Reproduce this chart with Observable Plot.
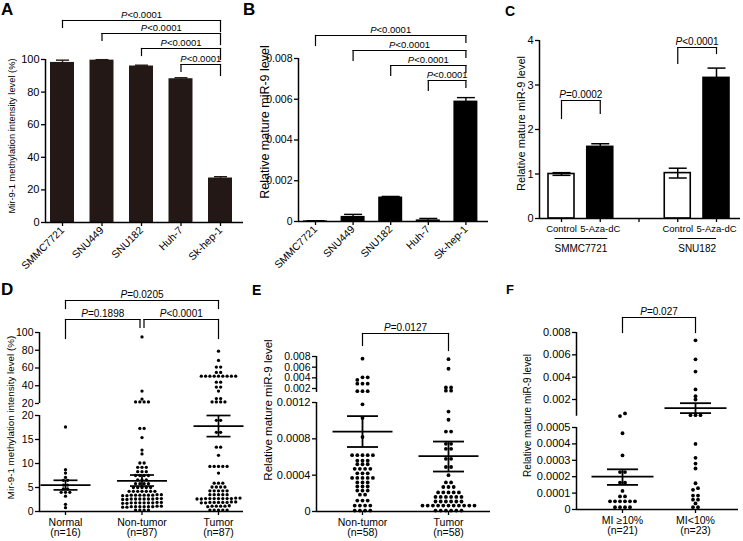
<!DOCTYPE html>
<html><head><meta charset="utf-8">
<script src="https://cdn.jsdelivr.net/npm/d3@7"></script>
<script src="https://cdn.jsdelivr.net/npm/@observablehq/plot@0.6"></script>
<style>
html,body{margin:0;padding:0;background:#fff;}
#fig{position:relative;width:743px;height:541px;overflow:hidden;background:#fff;font-family:'Liberation Sans',Arial,Helvetica,sans-serif;color:#000;}
.lab{position:absolute;font-weight:bold;line-height:1;}
</style></head><body><div id="fig"></div>
<script>
// ---------------- DATA ----------------
// A & B: cell lines
const cellLines = ["SMMC7721", "SNU449", "SNU182", "Huh-7", "Sk-hep-1"];
const methylPct = [98.2, 99.6, 96.0, 88.2, 27.3];
const methylErr = [1.4, 0.3, 0.5, 0.6, 0.8];
const mir9Cell = [0.00003, 0.00025, 0.00120, 0.00008, 0.00591];
const mir9CellErr = [0.00001, 0.00010, 0.00003, 0.00007, 0.00017];
const cellPairs = [[0, 4], [1, 4], [2, 4], [3, 4]];
const pCellA = ["P<0.0001", "P<0.0001", "P<0.0001", "P<0.0001"];
const pCellB = ["P<0.0001", "P<0.0001", "P<0.0001", "P<0.0001"];

// C: 5-Aza-dC treatment
const cLines = ["SMMC7721", "SNU182"];
const cTreat = ["Control", "5-Aza-dC"];
const cVals = [1.00, 1.61, 1.02, 3.16];
const cErr = [0.03, 0.07, 0.11, 0.22];
const cP = ["P=0.0002", "P<0.0001"];

// D: methylation in tissues
const dGroups = ["Normal", "Non-tumor", "Tumor"];
const dN = [16, 87, 87];
const dNormal = [17.6, 8.7, 8.0, 7.1, 6.5, 6.5, 5.5, 5.5, 4.7, 4.7, 4.0, 4.0, 4.0, 3.2, 1.5, 0.8];
const dNonTumor = [95, 34, 25, 21.8, 21.8, 21.8, 21.8,
  17.3, 17.3, 15.4, 12.8, 12.0, 10.1, 10.1, 9.2, 9.2, 9.2, 8.3, 8.3, 8.3,
  7.5, 7.5, 7.5, 7.5, 6.6, 6.6, 6.6, 5.8, 5.8, 5.8, 5.8, 5.0, 5.0, 5.0, 5.0, 5.0,
  4.2, 4.2, 4.2, 4.2, 4.2, 4.2, 4.2,
  3.4, 3.4, 3.5, 3.3, 3.4, 3.4, 3.5, 3.3, 3.4, 3.4,
  2.6, 2.6, 2.7, 2.5, 2.6, 2.6, 2.7, 2.5, 2.6, 2.6,
  1.8, 1.8, 1.9, 1.7, 1.8, 1.8, 1.9, 1.7, 1.8, 1.8,
  1.0, 1.0, 1.1, 0.9, 1.0, 1.0, 1.1, 0.9, 1.0, 1.0,
  0.3, 0.3, 0.3, 0.3];
const dTumor = [79, 68.5, 61, 61, 55, 55, 50.8, 50.8, 50.8, 50.8, 50.8, 50.8, 50.8, 50.8, 50.8,
  44, 44, 38.5, 38.5, 34, 25.5, 25.5, 21.8, 21.8, 21.8, 21.8,
  19.0, 19.0, 16.5, 16.5, 13.4, 13.4, 11.7, 9.4, 9.4, 9.4, 9.4, 9.4, 8.0,
  5.9, 5.9, 5.9, 5.1, 5.1, 5.1, 5.1, 4.3, 4.3, 4.3, 4.3, 4.3, 3.5, 3.5, 3.5, 3.5, 3.5,
  2.7, 2.7, 2.8, 2.6, 2.7, 2.7, 2.8, 2.6, 2.7, 2.7, 2.7,
  1.9, 1.9, 2.0, 1.8, 1.9, 1.9, 2.0, 1.8, 1.9,
  1.1, 1.1, 1.2, 1.0, 1.1, 1.1,
  0.3, 0.3, 0.3, 0.3, 0.3];
const dMean = [5.5, 6.4, 17.8];
const dSemLo = [4.5, 5.3, 15.6];
const dSemHi = [6.5, 7.6, 20.0];
const dPairs = [[0, 2], [0, 1], [1, 2]];
const dP = ["P=0.0205", "P=0.1898", "P<0.0001"];

// E: miR-9 in tissues
const eGroups = ["Non-tumor", "Tumor"];
const eN = [58, 58];
const eNonTumor = [0.0076, 0.0041, 0.0041, 0.0036, 0.0029, 0.0029, 0.0029, 0.0015, 0.0015, 0.0015,
  0.00118, 0.00103, 0.00082,
  0.00062, 0.00062, 0.00062, 0.00062, 0.00062, 0.00056, 0.00056, 0.00056,
  0.00052, 0.00052, 0.00052, 0.00047, 0.00047, 0.00047, 0.00047,
  0.00042, 0.00042, 0.00042, 0.00037, 0.00037, 0.00037, 0.00037, 0.00037,
  0.00032, 0.00032, 0.00032, 0.000275, 0.000275, 0.000275, 0.00023, 0.00023, 0.00023,
  0.000185, 0.000185, 0.00012, 0.00012, 0.00012,
  0.000065, 0.000065, 0.000065, 0.000065, 0.00001, 0.00001, 0.00001, 0.00001];
const eTumor = [0.0075, 0.0057, 0.0022, 0.0022, 0.0016, 0.0016,
  0.0011, 0.00101, 0.00088, 0.00088, 0.000745, 0.000745, 0.00069, 0.00069,
  0.00058, 0.00058, 0.00049, 0.00049, 0.0004, 0.00032, 0.00032,
  0.00027, 0.00027, 0.00027, 0.00021, 0.00021, 0.00021, 0.00021, 0.00021,
  0.00016, 0.00016, 0.00016, 0.00016, 0.00016, 0.00016,
  0.00011, 0.00011, 0.00011, 0.00011, 0.00011, 0.00011,
  0.000065, 0.000065, 0.000065, 0.000065, 0.000065, 0.000065, 0.000065, 0.000065, 0.000065, 0.000065, 0.000065,
  0.00001, 0.00001, 0.00001, 0.00001, 0.00001, 0.00001];
const eMean = [0.00088, 0.00061];
const eSemLo = [0.00071, 0.00044];
const eSemHi = [0.00105, 0.00077];
const eP = ["P=0.0127"];

// F: miR-9 by microvascular invasion
const fGroups = ["MI \u226510%", "MI<10%"];
const fN = [21, 23];
const fHigh = [0.00075, 0.00052, 0.000465, 0.00033, 0.000228, 0.000228, 0.000163, 0.000163, 0.000113,
  0.00008, 0.00008, 0.00005, 0.00005, 0.00005, 0.00005, 0.00005, 0.00005,
  0.000014, 0.000014, 0.000014, 0.000014];
const fLow = [0.0073, 0.0056, 0.0045, 0.0029, 0.0023, 0.0020, 0.0006, 0.0006, 0.0006,
  0.0004, 0.000315, 0.00028, 0.00025, 0.00016, 0.00013, 0.00012,
  0.000085, 0.000085, 0.00006, 0.00006, 0.000037, 0.000014, 0.000014];
const fMean = [0.0002, 0.00122];
const fSemLo = [0.00015, 0.00078];
const fSemHi = [0.000245, 0.00167];
const fP = ["P=0.027"];

const yLabMethyl = "Mir-9-1 methylation intensity level (%)";
const yLabMir = "Relative mature miR-9 level";

// ---------------- LAYOUT ----------------
const FONT = "'Liberation Sans', Arial, Helvetica, sans-serif";
const L = {
  A:   {left: 0,   top: 0,   width: 245, height: 270, mt: 59, mb: 48, ml: 45, mr: 2, c0: 62,  step: 39.5,  yd: [0, 100]},
  B:   {left: 245, top: 0,   width: 250, height: 270, mt: 58, mb: 49, ml: 53, mr: 7, c0: 70,  step: 37.6,  yd: [0, 0.008]},
  C:   {left: 495, top: 0,   width: 248, height: 270, mt: 40, mb: 52, ml: 44, mr: 3, c0: 66,  step: 38.75, yd: [0, 4]},
  Dup: {left: 0,   top: 285, width: 245, height: 120, mt: 47, mb: 2,  ml: 39, mr: 2, c0: 65,  step: 76.5,  yd: [20, 100]},
  Dlo: {left: 0,   top: 405, width: 245, height: 136, mt: 10, mb: 30, ml: 39, mr: 2, c0: 65,  step: 76.5,  yd: [0, 20]},
  Eup: {left: 245, top: 300, width: 250, height: 95,  mt: 56, mb: 3,  ml: 71, mr: 5, c0: 117, step: 86,    yd: [0.00125, 0.008]},
  Elo: {left: 245, top: 395, width: 250, height: 146, mt: 7,  mb: 30, ml: 71, mr: 5, c0: 117, step: 86,    yd: [0, 0.0012]},
  Fup: {left: 495, top: 295, width: 248, height: 123, mt: 37, mb: 2.25, ml: 81, mr: 5, c0: 127, step: 73, yd: [0.0005, 0.008]},
  Flo: {left: 495, top: 420, width: 248, height: 121, mt: 7,  mb: 32, ml: 81, mr: 5, c0: 127, step: 73,    yd: [0, 0.0005]}
};

const fig = document.getElementById("fig");
const ctx = document.createElement("canvas").getContext("2d");
function textW(s, px) { ctx.font = `${px}px ${FONT}`; return ctx.measureText(s).width; }
const xd = c => [(c.ml - c.c0) / c.step, (c.width - c.mr - c.c0) / c.step];
const ypx = c => d3.scaleLinear(c.yd, [c.height - c.mb, c.mt]);
const fmt = n => v => v === 0 ? "0" : v.toFixed(n);

function render(c, marks, hasX) {
  const svg = Plot.plot({
    width: c.width, height: c.height,
    marginTop: c.mt, marginBottom: c.mb, marginLeft: c.ml, marginRight: c.mr,
    x: hasX ? {type: "linear", domain: xd(c), label: null} : {type: "linear", domain: xd(c), label: null, axis: null},
    y: {type: "linear", domain: c.yd, label: null},
    style: {backgroundColor: "transparent", overflow: "visible", fontFamily: FONT, fontSize: "10px", color: "#000"},
    marks
  });
  svg.style.position = "absolute";
  svg.style.left = c.left + "px";
  svg.style.top = c.top + "px";
  fig.appendChild(svg);
}

function axesLines(c) {
  return [Plot.ruleX([xd(c)[0]], {stroke: "#000", strokeWidth: 1.5})];
}
function xLine(c) { return Plot.ruleY([c.yd[0]], {stroke: "#000", strokeWidth: 1.5}); }
function yAxis(ticks, tf, fs) {
  return Plot.axisY({ticks, tickFormat: tf, tickSize: 4, tickPadding: 2, fontSize: fs, label: null, strokeWidth: 1.3});
}
function yLabel(text, offset, dy, fs) {
  return Plot.text([text], {frameAnchor: "left", text: d => d, rotate: -90, dx: -offset, dy, textAnchor: "middle", lineAnchor: "middle", fontSize: fs});
}
function bracketMarks(c, list, fs) {
  const inv = ypx(c).invert;
  const segs = [];
  list.forEach(b => {
    segs.push({x1: b.x1, x2: b.x2, y1: inv(b.line), y2: inv(b.line)});
    segs.push({x1: b.x1, x2: b.x1, y1: inv(b.line), y2: inv(b.l)});
    segs.push({x1: b.x2, x2: b.x2, y1: inv(b.line), y2: inv(b.r)});
  });
  return [
    Plot.link(segs, {x1: "x1", y1: "y1", x2: "x2", y2: "y2", stroke: "#000", strokeWidth: 1.2, strokeLinecap: "square"}),
    Plot.text(list, {x: d => (d.x1 + d.x2) / 2, y: d => inv(d.line), text: "text", lineAnchor: "bottom", dy: -3, fontSize: fs})
  ];
}
function errMarks(recs, capHalf, both, color, sw) {
  const segs = [];
  recs.forEach(d => {
    const lo = both ? d.v - d.e : d.v, hi = d.v + d.e;
    segs.push({x1: d.i, x2: d.i, y1: lo, y2: hi});
    segs.push({x1: d.i - capHalf, x2: d.i + capHalf, y1: hi, y2: hi});
    if (both) segs.push({x1: d.i - capHalf, x2: d.i + capHalf, y1: lo, y2: lo});
  });
  return Plot.link(segs, {x1: "x1", y1: "y1", x2: "x2", y2: "y2", stroke: color, strokeWidth: sw});
}
function meanMarks(c, means, lo, hi, halfPx, capPx, sw) {
  const [y0, y1] = c.yd; const inD = v => v >= y0 && v <= y1;
  const hm = halfPx / c.step, hc = capPx / c.step;
  const segs = [];
  means.forEach((m, i) => {
    if (inD(m)) segs.push({x1: i - hm, x2: i + hm, y1: m, y2: m});
    if (inD(lo[i])) segs.push({x1: i - hc, x2: i + hc, y1: lo[i], y2: lo[i]});
    if (inD(hi[i])) segs.push({x1: i - hc, x2: i + hc, y1: hi[i], y2: hi[i]});
    const a = Math.max(lo[i], y0), b = Math.min(hi[i], y1);
    if (a < b) segs.push({x1: i, x2: i, y1: a, y2: b});
  });
  return Plot.link(segs, {x1: "x1", y1: "y1", x2: "x2", y2: "y2", stroke: "#000", strokeWidth: sw});
}
function swarmMarks(c, groups, r, stepPx, gap) {
  const y = ypx(c); const [y0, y1] = c.yd;
  const pts = [];
  groups.forEach((vals, gi) => {
    const sel = vals.filter(v => v >= y0 && v <= y1).map(v => ({v, py: y(v)})).sort((a, b) => b.py - a.py);
    let row = [];
    const flush = () => {
      row.forEach((p, j) => pts.push({x: gi + (j - (row.length - 1) / 2) * stepPx / c.step, y: p.v}));
      row = [];
    };
    sel.forEach(p => { if (row.length && row[0].py - p.py > gap) flush(); row.push(p); });
    flush();
  });
  return Plot.dot(pts, {x: "x", y: "y", r, fill: "#000"});
}
function groupAxis(names, ns) {
  return Plot.axisX({ticks: names.map((d, i) => i), tickFormat: i => `${names[i]}\n(n=${ns[i]})`,
    tickSize: 4, tickPadding: 3, fontSize: 10.5, label: null, strokeWidth: 1.3});
}

// ---------------- PANEL A ----------------
{
  const c = L.A;
  const recs = cellLines.map((d, i) => ({i, v: methylPct[i], e: methylErr[i]}));
  const hw = 12 / c.step;
  const levels = [20, 33, 48, 64];
  const br = cellPairs.map(([a, b], k) => ({x1: a, x2: b, line: levels[k], l: levels[k] + 7, r: levels[k] + 11, text: pCellA[k]}));
  render(c, [
    Plot.rectY(recs, {x1: d => d.i - hw, x2: d => d.i + hw, y1: () => 0, y2: "v", fill: "#231815"}),
    errMarks(recs, 6.5 / c.step, false, "#231815", 1.4),
    ...axesLines(c), xLine(c),
    yAxis([0, 20, 40, 60, 80, 100], d => d, 11),
    Plot.axisX({ticks: cellLines.map((d, i) => i), tickFormat: i => cellLines[i], tickRotate: -45, tickSize: 4, tickPadding: 2, fontSize: 10.5, label: null, strokeWidth: 1.3}),
    yLabel(yLabMethyl, 33, -5, 9.3),
    ...bracketMarks(c, br, 9.5)
  ], true);
}
// ---------------- PANEL B ----------------
{
  const c = L.B;
  const recs = cellLines.map((d, i) => ({i, v: mir9Cell[i], e: mir9CellErr[i]}));
  const hw = 12 / c.step;
  const levels = [35, 50, 65, 80];
  const br = cellPairs.map(([a, b], k) => ({x1: a, x2: b, line: levels[k], l: levels[k] + 10, r: levels[k] + 7, text: pCellB[k]}));
  render(c, [
    Plot.rectY(recs, {x1: d => d.i - hw, x2: d => d.i + hw, y1: () => 0, y2: "v", fill: "#000"}),
    errMarks(recs, 9 / c.step, false, "#000", 1.4),
    ...axesLines(c), xLine(c),
    yAxis([0, 0.002, 0.004, 0.006, 0.008], fmt(3), 10.5),
    Plot.axisX({ticks: cellLines.map((d, i) => i), tickFormat: i => cellLines[i], tickRotate: -45, tickSize: 4, tickPadding: 2, fontSize: 10.5, label: null, strokeWidth: 1.3}),
    yLabel(yLabMir, 34, -18, 12.5),
    ...bracketMarks(c, br, 9.5)
  ], true);
}
// ---------------- PANEL C ----------------
{
  const c = L.C;
  const recs = cVals.map((v, k) => ({i: Math.floor(k / 2) * 3 + (k % 2), v, e: cErr[k], ctrl: k % 2 === 0}));
  const hw = 13 / c.step;
  const br = [
    {x1: 0, x2: 1, line: 100, l: 118, r: 113, text: cP[0]},
    {x1: 3, x2: 4, line: 47, l: 63, r: 53, text: cP[1]}
  ];
  const gx = (d, g) => g * 3 + 0.5;
  const half = d => textW(d, 10) / 2 / c.step;
  render(c, [
    Plot.rectY(recs.filter(d => d.ctrl), {x1: d => d.i - hw, x2: d => d.i + hw, y1: () => 0, y2: "v", fill: "#fff", stroke: "#000", strokeWidth: 1.6}),
    Plot.rectY(recs.filter(d => !d.ctrl), {x1: d => d.i - hw, x2: d => d.i + hw, y1: () => 0, y2: "v", fill: "#000", stroke: "#000", strokeWidth: 1.6}),
    errMarks(recs, 9 / c.step, true, "#000", 1.5),
    ...axesLines(c), xLine(c),
    yAxis([0, 1, 2, 3, 4], d => d, 11),
    Plot.axisX({ticks: [0, 1, 2, 3, 4], tickFormat: i => (i % 3 === 2 ? "" : cTreat[i % 3]), tickSize: 4, tickPadding: 3, fontSize: 9.5, label: null, strokeWidth: 1.3}),
    Plot.text(cLines, {x: gx, y: () => 0, text: d => d, dy: 30, fontSize: 10, lineAnchor: "middle"}),
    Plot.link(cLines, {x1: (d, g) => gx(d, g) - half(d), x2: (d, g) => gx(d, g) + half(d), y1: () => 0, y2: () => 0, dy: 20, stroke: "#000", strokeWidth: 1.2}),
    yLabel(yLabMir, 18, -6, 11),
    ...bracketMarks(c, br, 10)
  ], true);
}
// ---------------- PANEL D ----------------
{
  const cu = L.Dup, cl = L.Dlo;
  const g = 2 / cu.step;
  const br = [
    {x1: dPairs[0][0], x2: dPairs[0][1], line: 15, l: 23, r: 23, text: dP[0]},
    {x1: dPairs[1][0], x2: dPairs[1][1] - g, line: 34, l: 53, r: 42, text: dP[1]},
    {x1: dPairs[2][0] + g, x2: dPairs[2][1], line: 34, l: 42, r: 53, text: dP[2]}
  ];
  const groups = [dNormal, dNonTumor, dTumor];
  render(cu, [
    ...axesLines(cu),
    yAxis([20, 40, 60, 80, 100], d => d, 10.5),
    swarmMarks(cu, groups, 1.65, 4.3, 2.5),
    ...bracketMarks(cu, br, 10)
  ], false);
  render(cl, [
    ...axesLines(cl), xLine(cl),
    yAxis([0, 5, 10, 15, 20], d => d, 10.5),
    groupAxis(dGroups, dN),
    swarmMarks(cl, groups, 1.65, 4.3, 2.5),
    meanMarks(cl, dMean, dSemLo, dSemHi, 25, 12, 1.7),
    yLabel(yLabMethyl, 29, -46, 9.8)
  ], true);
}
// ---------------- PANEL E ----------------
{
  const cu = L.Eup, cl = L.Elo;
  const br = [{x1: 0, x2: 1, line: 33, l: 45, r: 50, text: eP[0]}];
  const groups = [eNonTumor, eTumor];
  render(cu, [
    ...axesLines(cu),
    yAxis([0.002, 0.004, 0.006, 0.008], fmt(3), 10.5),
    swarmMarks(cu, groups, 1.9, 5.2, 3),
    ...bracketMarks(cu, br, 10)
  ], false);
  render(cl, [
    ...axesLines(cl), xLine(cl),
    yAxis([0, 0.0004, 0.0008, 0.0012], fmt(4), 11),
    groupAxis(eGroups, eN),
    swarmMarks(cl, groups, 1.9, 5.2, 3),
    meanMarks(cl, eMean, eSemLo, eSemHi, 30, 15.5, 1.8),
    yLabel(yLabMir, 48, -47, 11.5)
  ], true);
}
// ---------------- PANEL F ----------------
{
  const cu = L.Fup, cl = L.Flo;
  const br = [{x1: 0, x2: 1, line: 22, l: 37, r: 37, text: fP[0]}];
  const groups = [fHigh, fLow];
  render(cu, [
    ...axesLines(cu),
    yAxis([0.002, 0.004, 0.006, 0.008], fmt(3), 11),
    swarmMarks(cu, groups, 1.9, 5, 3),
    meanMarks(cu, fMean, fSemLo, fSemHi, 31, 15.5, 1.8),
    ...bracketMarks(cu, br, 10)
  ], false);
  render(cl, [
    ...axesLines(cl), xLine(cl),
    yAxis([0, 0.0001, 0.0002, 0.0003, 0.0004, 0.0005], fmt(4), 11),
    groupAxis(fGroups, fN),
    swarmMarks(cl, groups, 1.9, 5, 3),
    meanMarks(cl, fMean, fSemLo, fSemHi, 31, 15.5, 1.8),
    yLabel(yLabMir, 49, -53, 10)
  ], true);
}

// panel letters
[["A", 1, 1, 17], ["B", 243, 1, 17], ["C", 505, 4, 14], ["D", 1, 281, 17], ["E", 252, 283, 14], ["F", 506, 283, 13]].forEach(([t, x, y, fs]) => {
  const d = document.createElement("div");
  d.className = "lab"; d.textContent = t;
  d.style.left = x + "px"; d.style.top = y + "px"; d.style.fontSize = fs + "px";
  fig.appendChild(d);
});

// italic P in p-value labels
const NS = "http://www.w3.org/2000/svg";
fig.querySelectorAll("text").forEach(t => {
  if (t.children.length === 0 && /^P[<=]/.test(t.textContent)) {
    const rest = t.textContent.slice(1);
    t.textContent = "";
    const ts = document.createElementNS(NS, "tspan");
    ts.setAttribute("font-style", "italic");
    ts.textContent = "P";
    t.appendChild(ts);
    t.appendChild(document.createTextNode(rest));
  }
});
</script>
</body></html>
